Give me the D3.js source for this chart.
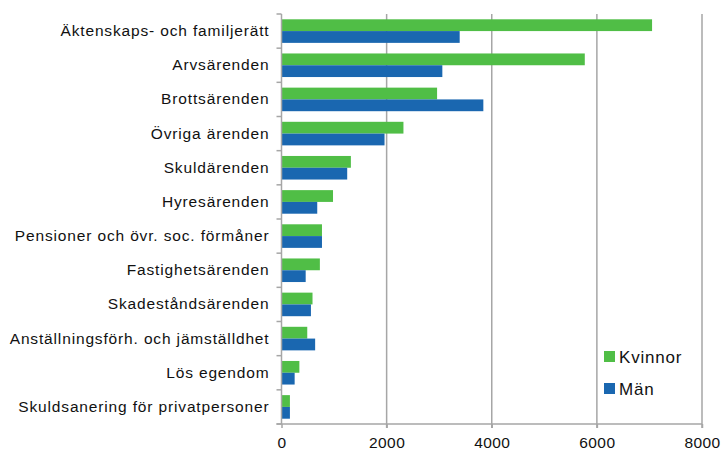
<!DOCTYPE html>
<html><head><meta charset="utf-8">
<script src="https://cdn.jsdelivr.net/npm/d3@7"></script>
<style>body{margin:0;background:#fff;font-family:"Liberation Sans",Arial,sans-serif;}</style>
</head><body><svg id="c" width="721" height="450"></svg>
<script>
const categories = ["Äktenskaps- och familjerätt","Arvsärenden","Brottsärenden","Övriga ärenden","Skuldärenden","Hyresärenden","Pensioner och övr. soc. förmåner","Fastighetsärenden","Skadeståndsärenden","Anställningsförh. och jämställdhet","Lös egendom","Skuldsanering för privatpersoner"];
const kvinnor = [7050,5770,2960,2320,1320,980,770,730,590,490,340,160];
const man = [3390,3060,3840,1960,1250,680,770,460,560,640,250,160];
const seriesNames = ["Kvinnor","Män"];
const colors = ["#50be46","#1a67b0"];
const xTicks = [0,2000,4000,6000,8000];

const svg = d3.select("#c");
const L = 281.5, R = 702, T = 14, B = 424;
const x = d3.scaleLinear().domain([0,8000]).range([L,R]);
const y = d3.scaleBand().domain(categories).range([T,B]).paddingInner(0.31).paddingOuter(0.155);
const ys = d3.scaleBand().domain(seriesNames).range([0,y.bandwidth()]);

// grid
svg.append("g").selectAll("line").data(xTicks.slice(1)).join("line")
  .attr("x1",d=>x(d)).attr("x2",d=>x(d)).attr("y1",T).attr("y2",B+4)
  .attr("stroke","#a6a6a6").attr("stroke-width",1.5);

// bars
const data = [kvinnor, man];
data.forEach((vals,si)=>{
  svg.append("g").selectAll("rect").data(categories).join("rect")
    .attr("x",x(0)).attr("y",(c)=>y(c)+ys(seriesNames[si]))
    .attr("width",(c,i)=>x(vals[i])-x(0)).attr("height",ys.bandwidth())
    .attr("fill",colors[si]);
});

// y axis
const yAxis = d3.axisLeft(y).tickSize(0).tickPadding(12);
const gy = svg.append("g").attr("transform",`translate(${L},0)`).call(yAxis);
gy.select(".domain").attr("stroke","#a6a6a6").attr("stroke-width",1.5).attr("d",`M0,${T}V${B}`);
gy.selectAll("text").attr("font-family","'Liberation Sans',Arial,sans-serif").attr("font-size",15.5).attr("fill","#111").attr("letter-spacing","0.85px");
// y category boundary ticks
const bounds = d3.range(categories.length+1).map(i=>T+i*(B-T)/categories.length);
svg.append("g").selectAll("line").data(bounds).join("line")
  .attr("x1",L-5).attr("x2",L).attr("y1",d=>d).attr("y2",d=>d)
  .attr("stroke","#a6a6a6").attr("stroke-width",1.5);

// x axis
const xAxis = d3.axisBottom(x).tickValues(xTicks).tickSize(4).tickPadding(9).tickFormat(d3.format("d"));
const gx = svg.append("g").attr("transform",`translate(0,${B})`).call(xAxis);
gx.select(".domain").attr("stroke","#a6a6a6").attr("stroke-width",1.5).attr("d",`M${L-5},0H${R}`);
gx.selectAll(".tick line").attr("stroke","#a6a6a6").attr("stroke-width",1.5);
gx.selectAll("text").attr("font-family","'Liberation Sans',Arial,sans-serif").attr("font-size",15.5).attr("letter-spacing","0.4px").attr("fill","#111");

// legend
const lg = svg.append("g").attr("transform","translate(604,351)");
seriesNames.forEach((n,i)=>{
  const g = lg.append("g").attr("transform",`translate(0,${i*32})`);
  g.append("rect").attr("width",11).attr("height",11).attr("fill",colors[i]);
  g.append("text").attr("x",15).attr("y",11.5).attr("font-size",17).attr("letter-spacing","0.8px")
   .attr("font-family","'Liberation Sans',Arial,sans-serif").attr("fill","#111").text(n);
});
</script></body></html>
